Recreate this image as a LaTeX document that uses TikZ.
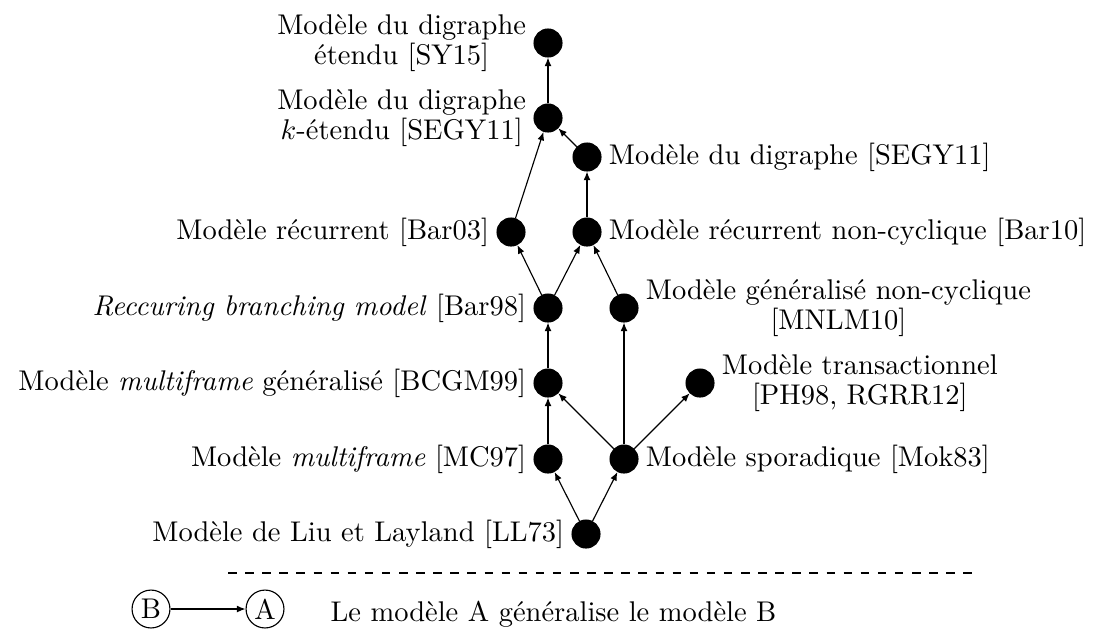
\documentclass[tikz,border=0pt]{standalone}
\usepackage{fontspec}
\usetikzlibrary{arrows.meta}
\begin{document}
\begin{tikzpicture}[x=0.35087pt,y=-0.35087pt,
  font=\fontsize{10}{10.8}\selectfont,
  model/.style={circle,fill=black,draw=black,minimum size=9.8pt,inner sep=0pt},
  lbl/.style={align=center,inner sep=2.4pt},
  gen/.style={-{Latex[length=3pt,width=2.4pt]},line width=0.4pt},
  legnode/.style={circle,draw=black,minimum size=13.3pt,inner sep=0pt,line width=0.4pt}]
\useasboundingbox (0,0) rectangle (1093,628);
% model nodes
\node[model] (ext)   at (548,43) {};
\node[model] (kext)  at (548,118) {};
\node[model] (dig)   at (587,157) {};
\node[model] (rec)   at (511,232) {};
\node[model] (recnc) at (587,232) {};
\node[model] (rbm)   at (548,308) {};
\node[model] (gnc)   at (624,308) {};
\node[model] (gmf)   at (548,383) {};
\node[model] (trans) at (700,383) {};
\node[model] (mf)    at (548,459) {};
\node[model] (spor)  at (624,459) {};
\node[model] (ll)    at (586,534) {};
% labels
\node[lbl,anchor=east] (Lext) at (ext.west) {Modèle du digraphe\\{}étendu [SY15]};
\node[lbl,anchor=east] (Lkext) at (kext.west) {Modèle du digraphe\\{}$k$-étendu [SEGY11]};
\node[lbl,anchor=west] (Ldig) at (dig.east) {Modèle du digraphe [SEGY11]};
\node[lbl,anchor=east] (Lrec) at (rec.west) {Modèle récurrent [Bar03]};
\node[lbl,anchor=west] (Lrecnc) at (recnc.east) {Modèle récurrent non-cyclique [Bar10]};
\node[lbl,anchor=east] (Lrbm) at (rbm.west) {\emph{Reccuring branching model} [Bar98]};
\node[lbl,anchor=west] (Lgnc) at (gnc.east) {Modèle généralisé non-cyclique\\{}[MNLM10]};
\node[lbl,anchor=east] (Lgmf) at (gmf.west) {Modèle \emph{multiframe} généralisé [BCGM99]};
\node[lbl,anchor=west] (Ltrans) at (trans.east) {Modèle transactionnel\\{}[PH98, RGRR12]};
\node[lbl,anchor=east] (Lmf) at (mf.west) {Modèle \emph{multiframe} [MC97]};
\node[lbl,anchor=west] (Lspor) at (spor.east) {Modèle sporadique [Mok83]};
\node[lbl,anchor=east] (Lll) at (ll.west) {Modèle de Liu et Layland [LL73]};
% edges
\draw[gen] (kext) -- (ext);
\draw[gen] (dig) -- (kext);
\draw[gen] (rec) -- (kext);
\draw[gen] (recnc) -- (dig);
\draw[gen] (rbm) -- (rec);
\draw[gen] (rbm) -- (recnc);
\draw[gen] (gnc) -- (recnc);
\draw[gen] (gmf) -- (rbm);
\draw[gen] (spor) -- (gnc);
\draw[gen] (mf) -- (gmf);
\draw[gen] (spor) -- (gmf);
\draw[gen] (spor) -- (trans);
\draw[gen] (ll) -- (mf);
\draw[gen] (ll) -- (spor);
% legend
\coordinate (dl) at (228,573);
\coordinate (dr) at (972,573);
\draw[dashed,line width=0.4pt] (dl) -- (dr);
\node[legnode] (B) at (151,609) {B};
\node[legnode] (A) at (265,609) {A};
\draw[gen] (B) -- (A);
\node[anchor=base west,inner sep=0pt] (legtext) at (330,621) {Le modèle A généralise le modèle B};
\end{tikzpicture}
\end{document}
